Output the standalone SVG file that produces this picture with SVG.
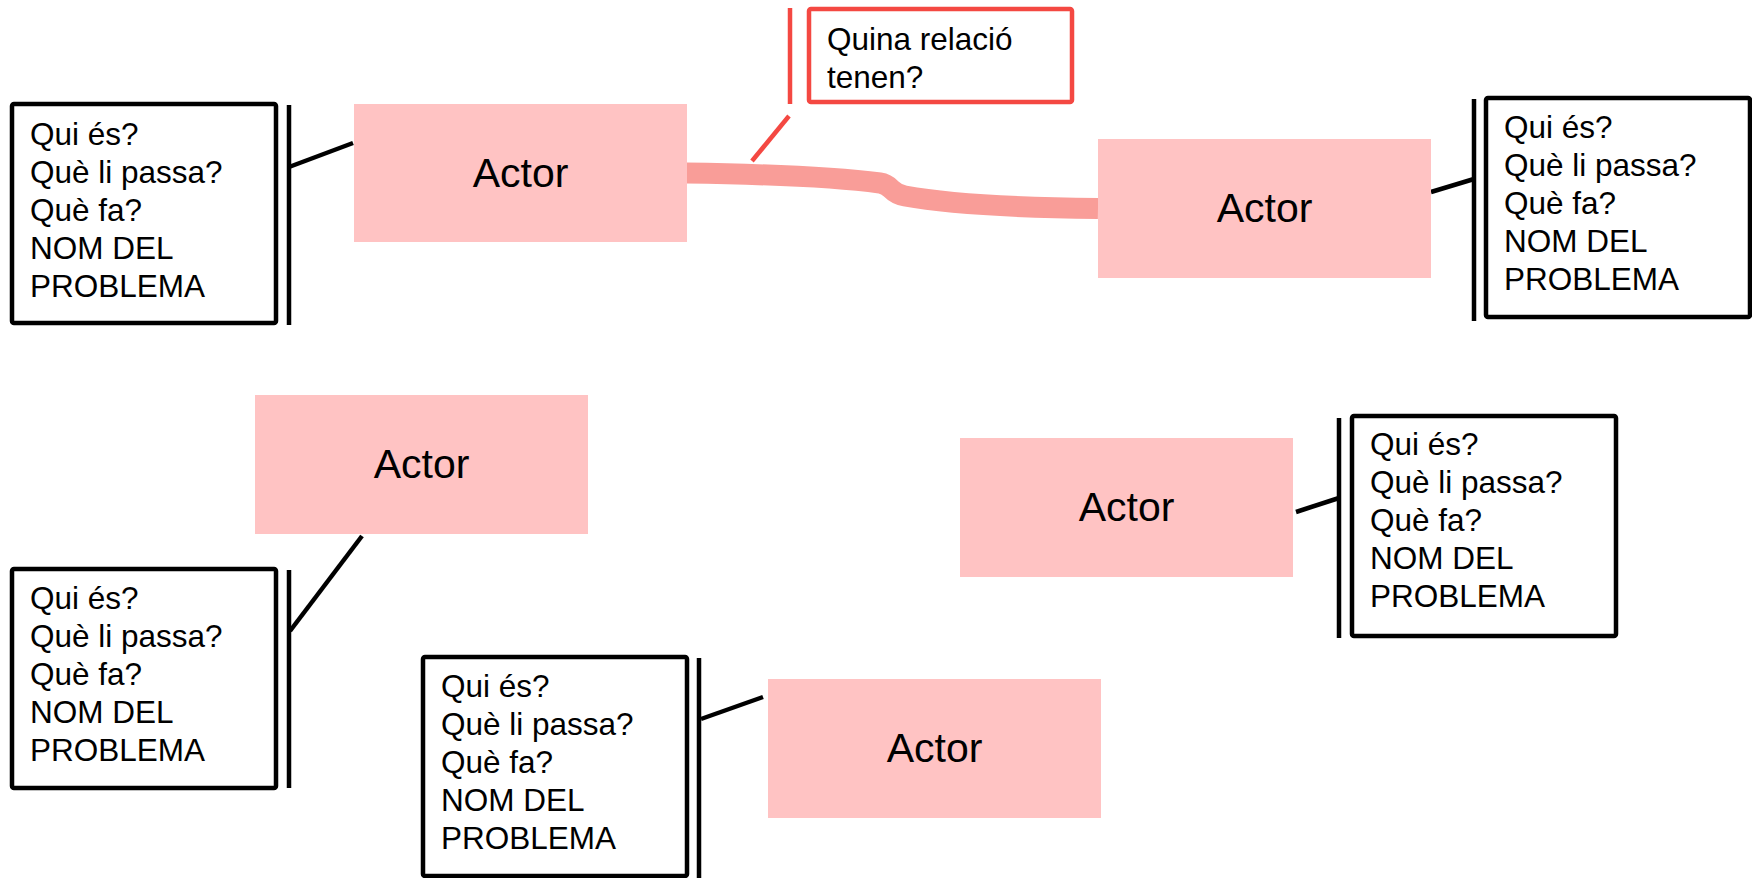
<svg xmlns="http://www.w3.org/2000/svg" width="1752" height="878" viewBox="0 0 1752 878">
<style>
.actor rect{fill:#FFC3C3;stroke:none}
.actor text{font-family:"Liberation Sans",Arial,sans-serif;font-size:41px;fill:#000;text-anchor:middle}
.callout rect{fill:#fff;stroke:#000;stroke-width:4.5;rx:2}
.callout .bar{stroke:#000;stroke-width:4.5}
.callout text{font-family:"Liberation Sans",Arial,sans-serif;font-size:31.5px;fill:#000}
.red rect{stroke:#F44842}
.red .bar{stroke:#F44842}
.link{stroke:#000;stroke-width:4.5;fill:none}
</style>
<rect width="1752" height="878" fill="#fff"/>

<g id="connectors">
  <path id="relation" d="M686,173 Q820,175 880,183 C893,185 889,193 905,196 Q965,207 1098,208.5" fill="none" stroke="#F99D98" stroke-width="21"/>
  <line class="link" x1="289" y1="167" x2="353" y2="143"/>
  <line class="link" x1="1431" y1="192" x2="1474" y2="179"/>
  <line class="link" x1="362" y1="536" x2="290" y2="631"/>
  <line class="link" x1="701" y1="719" x2="763" y2="697"/>
  <line class="link" x1="1296" y1="512" x2="1339" y2="498"/>
  <line class="link" x1="752" y1="161" x2="789" y2="116" style="stroke:#F44842"/>
</g>

<g id="actor1" class="actor"><rect x="354" y="104" width="333" height="138"/><text x="520.5" y="187">Actor</text></g>
<g id="actor2" class="actor"><rect x="1098" y="139" width="333" height="139"/><text x="1264.5" y="222">Actor</text></g>
<g id="actor3" class="actor"><rect x="255" y="395" width="333" height="139"/><text x="421.5" y="478">Actor</text></g>
<g id="actor4" class="actor"><rect x="960" y="438" width="333" height="139"/><text x="1126.5" y="521">Actor</text></g>
<g id="actor5" class="actor"><rect x="768" y="679" width="333" height="139"/><text x="934.5" y="762">Actor</text></g>

<g id="callout-relation" class="callout red">
  <rect x="809" y="9" width="263" height="93"/>
  <line class="bar" x1="790" y1="8" x2="790" y2="104"/>
  <text x="827" y="50">Quina relació</text>
  <text x="827" y="88">tenen?</text>
</g>

<g id="callout1" class="callout" transform="translate(12,104)">
  <rect x="0" y="0" width="264" height="219"/>
  <line class="bar" x1="277" y1="1" x2="277" y2="221"/>
  <text x="18" y="41">Qui és?</text>
  <text x="18" y="79">Què li passa?</text>
  <text x="18" y="117">Què fa?</text>
  <text x="18" y="155">NOM DEL</text>
  <text x="18" y="193">PROBLEMA</text>
</g>

<g id="callout2" class="callout" transform="translate(1486,98)">
  <rect x="0" y="0" width="264" height="219"/>
  <line class="bar" x1="-12" y1="1" x2="-12" y2="223"/>
  <text x="18" y="40">Qui és?</text>
  <text x="18" y="78">Què li passa?</text>
  <text x="18" y="116">Què fa?</text>
  <text x="18" y="154">NOM DEL</text>
  <text x="18" y="192">PROBLEMA</text>
</g>

<g id="callout3" class="callout" transform="translate(12,569)">
  <rect x="0" y="0" width="264" height="219"/>
  <line class="bar" x1="277" y1="1" x2="277" y2="219"/>
  <text x="18" y="40">Qui és?</text>
  <text x="18" y="78">Què li passa?</text>
  <text x="18" y="116">Què fa?</text>
  <text x="18" y="154">NOM DEL</text>
  <text x="18" y="192">PROBLEMA</text>
</g>

<g id="callout4" class="callout" transform="translate(1352,416)">
  <rect x="0" y="0" width="264" height="220"/>
  <line class="bar" x1="-13" y1="2" x2="-13" y2="222"/>
  <text x="18" y="39">Qui és?</text>
  <text x="18" y="77">Què li passa?</text>
  <text x="18" y="115">Què fa?</text>
  <text x="18" y="153">NOM DEL</text>
  <text x="18" y="191">PROBLEMA</text>
</g>

<g id="callout5" class="callout" transform="translate(423,657)">
  <rect x="0" y="0" width="264" height="219"/>
  <line class="bar" x1="276" y1="1" x2="276" y2="221"/>
  <text x="18" y="40">Qui és?</text>
  <text x="18" y="78">Què li passa?</text>
  <text x="18" y="116">Què fa?</text>
  <text x="18" y="154">NOM DEL</text>
  <text x="18" y="192">PROBLEMA</text>
</g>
</svg>
